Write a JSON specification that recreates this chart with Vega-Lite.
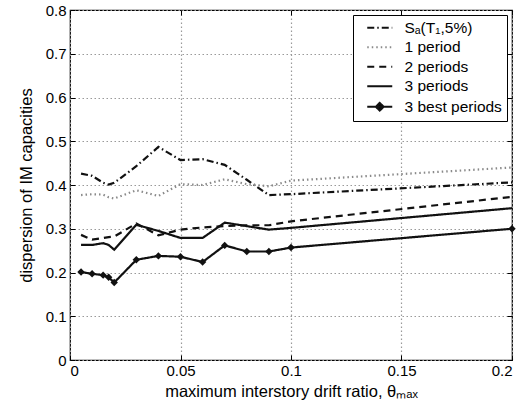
{
  "$schema": "https://vega.github.io/schema/vega-lite/v6.json",
  "width": 442,
  "height": 350,
  "autosize": "none",
  "padding": {"left": 70, "top": 10, "right": 16, "bottom": 50},
  "background": "white",
  "config": {
    "font": "Liberation Sans",
    "view": {"stroke": "black", "strokeWidth": 1.2},
    "axis": {
      "labelFont": "Liberation Sans",
      "titleFont": "Liberation Sans",
      "labelFontSize": 15,
      "titleFontSize": 16.5,
      "titleFontWeight": "normal",
      "labelColor": "black",
      "titleColor": "black",
      "domain": false,
      "tickColor": "black",
      "tickSize": -5,
      "tickWidth": 1
    },
    "legend": {
      "labelFont": "Liberation Sans",
      "labelFontSize": 15.5,
      "labelColor": "black"
    }
  },
  "data": {
    "values": [
      {"x": 0.005, "v": 0.426, "s": "Sₐ(T₁,5%)"},
      {"x": 0.01, "v": 0.421, "s": "Sₐ(T₁,5%)"},
      {"x": 0.015, "v": 0.405, "s": "Sₐ(T₁,5%)"},
      {"x": 0.0175, "v": 0.401, "s": "Sₐ(T₁,5%)"},
      {"x": 0.02, "v": 0.405, "s": "Sₐ(T₁,5%)"},
      {"x": 0.03, "v": 0.443, "s": "Sₐ(T₁,5%)"},
      {"x": 0.04, "v": 0.487, "s": "Sₐ(T₁,5%)"},
      {"x": 0.05, "v": 0.457, "s": "Sₐ(T₁,5%)"},
      {"x": 0.06, "v": 0.459, "s": "Sₐ(T₁,5%)"},
      {"x": 0.07, "v": 0.446, "s": "Sₐ(T₁,5%)"},
      {"x": 0.08, "v": 0.412, "s": "Sₐ(T₁,5%)"},
      {"x": 0.09, "v": 0.377, "s": "Sₐ(T₁,5%)"},
      {"x": 0.1, "v": 0.379, "s": "Sₐ(T₁,5%)"},
      {"x": 0.2, "v": 0.406, "s": "Sₐ(T₁,5%)"},

      {"x": 0.005, "v": 0.377, "s": "1 period"},
      {"x": 0.01, "v": 0.379, "s": "1 period"},
      {"x": 0.015, "v": 0.378, "s": "1 period"},
      {"x": 0.0175, "v": 0.372, "s": "1 period"},
      {"x": 0.02, "v": 0.369, "s": "1 period"},
      {"x": 0.03, "v": 0.388, "s": "1 period"},
      {"x": 0.04, "v": 0.375, "s": "1 period"},
      {"x": 0.05, "v": 0.402, "s": "1 period"},
      {"x": 0.06, "v": 0.4, "s": "1 period"},
      {"x": 0.07, "v": 0.413, "s": "1 period"},
      {"x": 0.08, "v": 0.402, "s": "1 period"},
      {"x": 0.09, "v": 0.397, "s": "1 period"},
      {"x": 0.1, "v": 0.41, "s": "1 period"},
      {"x": 0.2, "v": 0.44, "s": "1 period"},

      {"x": 0.005, "v": 0.286, "s": "2 periods"},
      {"x": 0.01, "v": 0.275, "s": "2 periods"},
      {"x": 0.015, "v": 0.279, "s": "2 periods"},
      {"x": 0.0175, "v": 0.281, "s": "2 periods"},
      {"x": 0.02, "v": 0.282, "s": "2 periods"},
      {"x": 0.03, "v": 0.312, "s": "2 periods"},
      {"x": 0.04, "v": 0.285, "s": "2 periods"},
      {"x": 0.05, "v": 0.298, "s": "2 periods"},
      {"x": 0.06, "v": 0.303, "s": "2 periods"},
      {"x": 0.07, "v": 0.306, "s": "2 periods"},
      {"x": 0.08, "v": 0.308, "s": "2 periods"},
      {"x": 0.09, "v": 0.308, "s": "2 periods"},
      {"x": 0.1, "v": 0.317, "s": "2 periods"},
      {"x": 0.2, "v": 0.373, "s": "2 periods"},

      {"x": 0.005, "v": 0.263, "s": "3 periods"},
      {"x": 0.01, "v": 0.263, "s": "3 periods"},
      {"x": 0.015, "v": 0.267, "s": "3 periods"},
      {"x": 0.0175, "v": 0.263, "s": "3 periods"},
      {"x": 0.02, "v": 0.252, "s": "3 periods"},
      {"x": 0.03, "v": 0.309, "s": "3 periods"},
      {"x": 0.04, "v": 0.295, "s": "3 periods"},
      {"x": 0.05, "v": 0.279, "s": "3 periods"},
      {"x": 0.06, "v": 0.279, "s": "3 periods"},
      {"x": 0.07, "v": 0.314, "s": "3 periods"},
      {"x": 0.08, "v": 0.306, "s": "3 periods"},
      {"x": 0.09, "v": 0.298, "s": "3 periods"},
      {"x": 0.1, "v": 0.302, "s": "3 periods"},
      {"x": 0.2, "v": 0.347, "s": "3 periods"},

      {"x": 0.005, "v": 0.201, "s": "3 best periods"},
      {"x": 0.01, "v": 0.197, "s": "3 best periods"},
      {"x": 0.015, "v": 0.194, "s": "3 best periods"},
      {"x": 0.0175, "v": 0.189, "s": "3 best periods"},
      {"x": 0.02, "v": 0.177, "s": "3 best periods"},
      {"x": 0.03, "v": 0.229, "s": "3 best periods"},
      {"x": 0.04, "v": 0.238, "s": "3 best periods"},
      {"x": 0.05, "v": 0.236, "s": "3 best periods"},
      {"x": 0.06, "v": 0.224, "s": "3 best periods"},
      {"x": 0.07, "v": 0.262, "s": "3 best periods"},
      {"x": 0.08, "v": 0.248, "s": "3 best periods"},
      {"x": 0.09, "v": 0.248, "s": "3 best periods"},
      {"x": 0.1, "v": 0.257, "s": "3 best periods"},
      {"x": 0.2, "v": 0.3, "s": "3 best periods"}
    ]
  },
  "resolve": {"axis": {"x": "independent", "y": "independent"}},
  "layer": [
    {
      "mark": {"type": "line", "strokeWidth": 2.2, "strokeCap": "butt"},
      "encoding": {
        "x": {
          "field": "x", "type": "quantitative",
          "scale": {"domain": [0, 0.2], "nice": false, "zero": false},
          "axis": {"values": [0, 0.05, 0.1, 0.15, 0.2], "format": "~g", "labelPadding": 8, "title": "maximum interstory drift ratio, θₘₐₓ", "titlePadding": 5, "grid": true, "gridColor": "#9a9a9a", "gridDash": [1.5, 2.5], "gridWidth": 1.2, "gridOpacity": 1}
        },
        "y": {
          "field": "v", "type": "quantitative",
          "scale": {"domain": [0, 0.8], "nice": false},
          "axis": {"values": [0, 0.1, 0.2, 0.3, 0.4, 0.5, 0.6, 0.7, 0.8], "format": "~g", "labelPadding": 9, "title": "dispersion of IM capacities", "titlePadding": 11, "grid": true, "gridColor": "#9a9a9a", "gridDash": [1.5, 2.5], "gridWidth": 1.2, "gridOpacity": 1}
        },
        "detail": {"field": "s"},
        "strokeDash": {
          "field": "s", "type": "nominal",
          "scale": {
            "domain": ["Sₐ(T₁,5%)", "1 period", "2 periods", "3 periods", "3 best periods"],
            "range": [[7, 3, 1.5, 3], [1.5, 3], [7, 5], [1, 0], [1, 0]]
          },
          "legend": {
            "title": null,
            "orient": "top-right",
            "offset": 5,
            "strokeColor": "black",
            "fillColor": "white",
            "padding": 5,
            "rowPadding": 2.5,
            "symbolSize": 100,
            "symbolOffset": 14,
            "symbolStrokeWidth": 2.2,
            "labelOffset": 17,
            "encode": {
              "symbols": {
                "update": {
                  "shape": {"signal": "datum.value === '3 best periods' ? 'M-2.5,0H2.5M0,-0.75L0.75,0L0,0.75L-0.75,0Z' : 'M-2.5,0H2.5'"},
                  "fill": {"signal": "datum.value === '3 best periods' ? 'black' : 'transparent'"}
                }
              }
            }
          }
        },
        "color": {
          "field": "s", "type": "nominal",
          "scale": {
            "domain": ["Sₐ(T₁,5%)", "1 period", "2 periods", "3 periods", "3 best periods"],
            "range": ["#111111", "#8a8a8a", "#111111", "#111111", "#111111"]
          },
          "legend": {
            "title": null,
            "orient": "top-right",
            "offset": 5,
            "strokeColor": "black",
            "fillColor": "white",
            "padding": 5,
            "rowPadding": 2.5,
            "symbolSize": 100,
            "symbolOffset": 14,
            "symbolStrokeWidth": 2.2,
            "labelOffset": 17,
            "encode": {
              "symbols": {
                "update": {
                  "shape": {"signal": "datum.value === '3 best periods' ? 'M-2.5,0H2.5M0,-0.75L0.75,0L0,0.75L-0.75,0Z' : 'M-2.5,0H2.5'"},
                  "fill": {"signal": "datum.value === '3 best periods' ? 'black' : 'transparent'"}
                }
              }
            }
          }
        }
      }
    },
    {
      "transform": [{"filter": "datum.s === '3 best periods'"}],
      "mark": {"type": "point", "shape": "diamond", "filled": true, "size": 55, "color": "#111111", "opacity": 1},
      "encoding": {
        "x": {"field": "x", "type": "quantitative", "axis": {"orient": "top", "values": [0, 0.05, 0.1, 0.15, 0.2], "labels": false, "title": null, "grid": false}},
        "y": {"field": "v", "type": "quantitative", "axis": {"orient": "right", "values": [0, 0.1, 0.2, 0.3, 0.4, 0.5, 0.6, 0.7, 0.8], "labels": false, "title": null, "grid": false}}
      }
    }
  ]
}
